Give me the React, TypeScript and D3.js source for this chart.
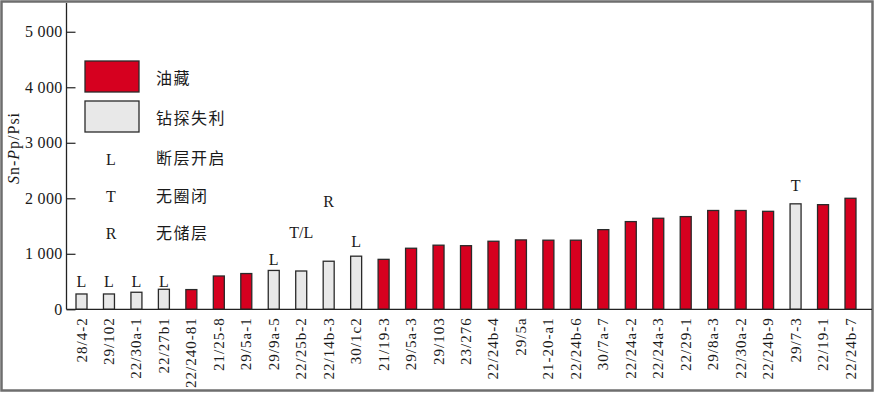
import React, { useEffect, useRef } from "react";
import * as d3 from "d3";

// wells, left to right
const wells = [
  "28/4-2", "29/102", "22/30a-1", "22/27b1", "22/240-81", "21/25-8", "29/5a-1",
  "29/9a-5", "22/25b-2", "22/14b-3", "30/1c2", "21/19-3", "29/5a-3", "29/103",
  "23/276", "22/24b-4", "29/5a", "21-20-a1", "22/24b-6", "30/7a-7", "22/24a-2",
  "22/24a-3", "22/29-1", "29/8a-3", "22/30a-2", "22/24b-9", "29/7-3", "22/19-1",
  "22/24b-7",
];

// Sn-Pp in psi
const snPp = [
  276, 276, 307, 361, 355, 600, 644, 700, 690, 866, 957, 900, 1100, 1155,
  1146, 1226, 1250, 1245, 1245, 1435, 1580, 1640, 1670, 1780, 1780, 1765, 1900, 1885,
  2000,
];

// 1 = oil field, 0 = dry hole
const isOil = [
  0, 0, 0, 0, 1, 1, 1, 0, 0, 0, 0, 1, 1, 1,
  1, 1, 1, 1, 1, 1, 1, 1, 1, 1, 1, 1, 0, 1,
  1,
];

// failure reason notes (label height in psi units)
const noteWells = ["28/4-2", "29/102", "22/30a-1", "22/27b1", "29/9a-5", "22/25b-2", "22/14b-3", "30/1c2", "29/7-3"];
const noteText = ["L", "L", "L", "L", "L", "T/L", "R", "L", "T"];
const noteLevel = [497, 497, 497, 497, 906, 1375, 1950, 1213, 2227];

const yTicks = [0, 1000, 2000, 3000, 4000, 5000];

const legendBoxes = ["油藏", "钻探失利"];
const legendCodes = ["L", "T", "R"];
const legendCodeText = ["断层开启", "无圈闭", "无储层"];

const RED = "#d6001f";
const GREY = "#e8e8e8";
const SERIF = "'Liberation Serif', 'Times New Roman', serif";
const CJK = "'Noto Sans CJK SC', sans-serif";

export default function App() {
  const ref = useRef<SVGSVGElement>(null);

  useEffect(() => {
    const svg = d3.select(ref.current);
    svg.selectAll("*").remove();

    const W = 876;
    const H = 394;
    const left = 66.5;
    const right = 872;
    const bottom = 309.3;

    const x = d3.scalePoint<string>().domain(wells).range([81.5, 850.5]);
    const y = d3.scaleLinear().domain([0, 5500]).range([bottom, 4]);
    const barW = 11;

    const data = wells.map((w, i) => ({ name: w, value: snPp[i], oil: isOil[i] === 1 }));

    // outer frame
    svg
      .append("rect")
      .attr("x", 1.5)
      .attr("y", 1.5)
      .attr("width", W - 5)
      .attr("height", H - 5)
      .attr("fill", "#fff")
      .attr("stroke", "#6e6e6e")
      .attr("stroke-width", 2.5);

    // bars
    svg
      .append("g")
      .selectAll("rect")
      .data(data)
      .join("rect")
      .attr("x", (d) => x(d.name)! - barW / 2)
      .attr("y", (d) => y(d.value))
      .attr("width", barW)
      .attr("height", (d) => bottom - y(d.value))
      .attr("fill", (d) => (d.oil ? RED : GREY))
      .attr("stroke", "#2a2a2a")
      .attr("stroke-width", 1.3);

    // y axis, ticks inside
    const yAxis = d3
      .axisRight(y)
      .tickValues(yTicks)
      .tickSize(9)
      .tickFormat((d) => d3.format(",")(d as number).replace(",", " "));
    const ya = svg.append("g").attr("transform", `translate(${left},0)`).call(yAxis);
    ya.select(".domain").remove();
    ya.selectAll("line").attr("stroke", "#222").attr("stroke-width", 1.2);
    ya.selectAll("text")
      .attr("x", -4)
      .attr("text-anchor", "end")
      .attr("font-family", SERIF)
      .attr("font-size", 16)
      .attr("letter-spacing", 0.3)
      .attr("fill", "#1a1a1a");

    // axis lines
    svg
      .append("line")
      .attr("x1", left)
      .attr("x2", left)
      .attr("y1", 3)
      .attr("y2", bottom)
      .attr("stroke", "#222")
      .attr("stroke-width", 1.3);
    svg
      .append("line")
      .attr("x1", left)
      .attr("x2", right)
      .attr("y1", bottom)
      .attr("y2", bottom)
      .attr("stroke", "#222")
      .attr("stroke-width", 1.3);

    // x labels, rotated
    svg
      .append("g")
      .selectAll("text")
      .data(wells)
      .join("text")
      .attr("transform", (d) => `translate(${x(d)},${bottom + 8}) rotate(-90)`)
      .attr("text-anchor", "end")
      .attr("dominant-baseline", "central")
      .attr("font-family", SERIF)
      .attr("font-size", 15)
      .attr("letter-spacing", 1)
      .attr("fill", "#1a1a1a")
      .text((d) => d);

    // notes above bars
    svg
      .append("g")
      .selectAll("text")
      .data(noteWells)
      .join("text")
      .attr("x", (d) => x(d)!)
      .attr("y", (_, i) => y(noteLevel[i]))
      .attr("text-anchor", "middle")
      .attr("dominant-baseline", "central")
      .attr("font-family", SERIF)
      .attr("font-size", 16)
      .attr("fill", "#1a1a1a")
      .text((_, i) => noteText[i]);

    // y title
    const yt = svg
      .append("text")
      .attr("transform", "translate(13,148) rotate(-90)")
      .attr("text-anchor", "middle")
      .attr("dominant-baseline", "central")
      .attr("font-family", SERIF)
      .attr("font-size", 16)
      .attr("letter-spacing", 1)
      .attr("fill", "#1a1a1a");
    yt.append("tspan").attr("font-style", "italic").text("S");
    yt.append("tspan").text("n-");
    yt.append("tspan").attr("font-style", "italic").text("P");
    yt.append("tspan").text("p/Psi");

    // legend
    const lg = svg.append("g");
    lg.selectAll("rect")
      .data(legendBoxes)
      .join("rect")
      .attr("x", 85)
      .attr("y", (_, i) => 61 + i * 40)
      .attr("width", 54)
      .attr("height", 31)
      .attr("fill", (_, i) => (i === 0 ? RED : GREY))
      .attr("stroke", "#2a2a2a")
      .attr("stroke-width", 1.3);
    lg.selectAll("text.box")
      .data(legendBoxes)
      .join("text")
      .attr("class", "box")
      .attr("x", 156)
      .attr("y", (_, i) => 77 + i * 40)
      .attr("dominant-baseline", "central")
      .attr("font-family", CJK)
      .attr("font-size", 16)
      .attr("letter-spacing", 1.5)
      .attr("fill", "#1a1a1a")
      .text((d) => d);
    lg.selectAll("text.code")
      .data(legendCodes)
      .join("text")
      .attr("class", "code")
      .attr("x", 111)
      .attr("y", (_, i) => 159 + i * 37)
      .attr("text-anchor", "middle")
      .attr("dominant-baseline", "central")
      .attr("font-family", SERIF)
      .attr("font-size", 16)
      .attr("fill", "#1a1a1a")
      .text((d) => d);
    lg.selectAll("text.desc")
      .data(legendCodeText)
      .join("text")
      .attr("class", "desc")
      .attr("x", 156)
      .attr("y", (_, i) => 157 + i * 37.5)
      .attr("dominant-baseline", "central")
      .attr("font-family", CJK)
      .attr("font-size", 16)
      .attr("letter-spacing", 1.5)
      .attr("fill", "#1a1a1a")
      .text((d) => d);
  }, []);

  return (
    <svg
      ref={ref}
      width={876}
      height={394}
      style={{ position: "absolute", left: 0, top: 0, background: "#fff" }}
    />
  );
}
